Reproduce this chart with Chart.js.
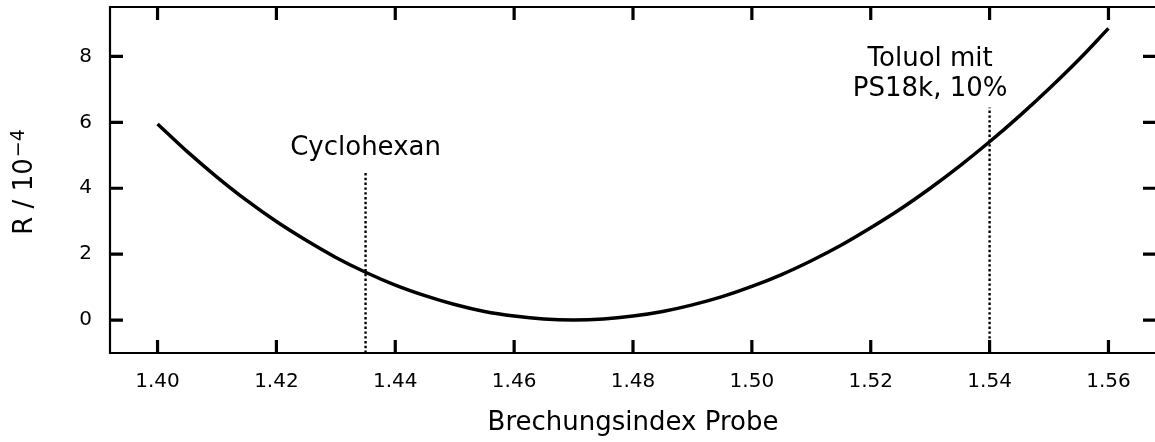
<!DOCTYPE html>
<html>
<head>
<meta charset="utf-8">
<script src="https://cdn.jsdelivr.net/npm/chart.js@4.4.1/dist/chart.umd.min.js"></script>
<style>
  html, body { margin: 0; padding: 0; background: #fff; overflow: hidden; }
  #wrap { position: relative; width: 1160px; height: 442px; }
</style>
</head>
<body>
<div id="wrap"><canvas id="c"></canvas></div>
<script>
// Refractive index of sample (x) and reflectance R / 1e-4 (y)
const nValues = [1.400, 1.405, 1.410, 1.415, 1.420, 1.425, 1.430, 1.435, 1.440, 1.445,
                 1.450, 1.455, 1.460, 1.465, 1.470, 1.475, 1.480, 1.485, 1.490, 1.495,
                 1.500, 1.505, 1.510, 1.515, 1.520, 1.525, 1.530, 1.535, 1.540, 1.545,
                 1.550, 1.555, 1.560];
const rValues = [5.95, 5.11, 4.34, 3.63, 2.99, 2.42, 1.90, 1.45, 1.06, 0.74,
                 0.47, 0.26, 0.12, 0.03, 0.00, 0.03, 0.12, 0.26, 0.46, 0.71,
                 1.02, 1.38, 1.80, 2.27, 2.80, 3.37, 4.00, 4.68, 5.41, 6.19,
                 7.02, 7.90, 8.85];

// Vertical dotted marker lines
const cycloX = [1.435, 1.435];
const cycloY = [-1, 4.5];
const toluolX = [1.54, 1.54];
const toluolY = [-1, 6.45];

// Annotation texts and their anchor positions (data units)
const annTexts = ["Cyclohexan", "Toluol mit", "PS18k, 10%"];
const annX = [1.435, 1.53, 1.53];
const annY = [5.0, 7.7, 6.79];

// Tick values
const xTicks = [1.40, 1.42, 1.44, 1.46, 1.48, 1.50, 1.52, 1.54, 1.56];
const yTicks = [0, 2, 4, 6, 8];

// Axis titles
const xTitle = 'Brechungsindex Probe';
const yTitleMain = 'R / 10';
const yTitleSup = '\u22124';

const FONT = "'DejaVu Sans', sans-serif";
const zip = (xs, ys) => xs.map((x, i) => ({x: x, y: ys[i]}));

const framePlugin = {
  id: 'frame',
  afterDraw(chart) {
    const {ctx, chartArea: a, scales: {x, y}} = chart;
    ctx.save();
    ctx.strokeStyle = '#000';
    ctx.lineCap = 'butt';
    // spines (right spine lies outside the visible window)
    ctx.lineWidth = 2.2;
    ctx.beginPath();
    ctx.moveTo(a.right + 4, a.top);
    ctx.lineTo(a.left, a.top);
    ctx.lineTo(a.left, a.bottom);
    ctx.lineTo(a.right + 4, a.bottom);
    ctx.stroke();
    // inward ticks
    const TL = 13;
    ctx.lineWidth = 3.2;
    ctx.beginPath();
    x.ticks.forEach(t => {
      const px = x.getPixelForValue(t.value);
      ctx.moveTo(px, a.bottom); ctx.lineTo(px, a.bottom - TL);
      ctx.moveTo(px, a.top); ctx.lineTo(px, a.top + TL);
    });
    y.ticks.forEach(t => {
      const py = y.getPixelForValue(t.value);
      ctx.moveTo(a.left, py); ctx.lineTo(a.left + TL, py);
      ctx.moveTo(a.right, py); ctx.lineTo(a.right - TL, py);
    });
    ctx.stroke();
    // annotations
    ctx.fillStyle = '#000';
    ctx.font = "26px " + FONT;
    ctx.textAlign = 'center';
    ctx.textBaseline = 'alphabetic';
    annTexts.forEach((s, i) => {
      ctx.fillText(s, x.getPixelForValue(annX[i]), y.getPixelForValue(annY[i]));
    });
    // y axis title with superscript
    ctx.font = "26px " + FONT;
    const wMain = ctx.measureText(yTitleMain).width;
    ctx.font = "19px " + FONT;
    const wSup = ctx.measureText(yTitleSup).width;
    const total = wMain + 1 + wSup;
    const cy = (a.top + a.bottom) / 2 + 2;
    ctx.translate(32, cy);
    ctx.rotate(-Math.PI / 2);
    ctx.textAlign = 'left';
    ctx.font = "26px " + FONT;
    ctx.fillText(yTitleMain, -total / 2, 0);
    ctx.font = "19px " + FONT;
    ctx.fillText(yTitleSup, -total / 2 + wMain + 1, -8);
    ctx.restore();
  }
};

new Chart(document.getElementById('c'), {
  type: 'line',
  data: {
    datasets: [
      { data: zip(cycloX, cycloY), borderColor: '#000', borderWidth: 2.4, borderDash: [2.4, 2.4], pointRadius: 0, fill: false },
      { data: zip(toluolX, toluolY), borderColor: '#000', borderWidth: 2.4, borderDash: [2.4, 2.4], pointRadius: 0, fill: false },
      { data: zip(nValues, rValues), borderColor: '#000', borderWidth: 3.5, pointRadius: 0, fill: false, cubicInterpolationMode: 'monotone' }
    ]
  },
  options: {
    responsive: true,
    maintainAspectRatio: false,
    animation: false,
    events: [],
    layout: { padding: { top: 7, right: 4, left: 0, bottom: 0 } },
    plugins: { legend: { display: false }, tooltip: { enabled: false } },
    scales: {
      x: {
        type: 'linear',
        min: 1.392, max: 1.568,
        afterBuildTicks: s => { s.ticks = xTicks.map(v => ({value: v})); },
        afterFit: s => { s.height = 89; s.paddingLeft = 0; s.paddingRight = 0; },
        grid: { display: false, drawTicks: false, tickLength: 0 },
        border: { display: false },
        ticks: {
          padding: 17, color: '#000', maxRotation: 0, autoSkip: false,
          font: { family: FONT, size: 20 },
          callback: v => Number(v).toFixed(2)
        },
        title: {
          display: true, text: xTitle, color: '#000',
          font: { family: FONT, size: 26 }, padding: { top: 0, bottom: 3 }
        }
      },
      y: {
        type: 'linear',
        min: -1, max: 9.5,
        afterBuildTicks: s => { s.ticks = yTicks.map(v => ({value: v})); },
        afterFit: s => { s.width = 110; s.paddingTop = 0; s.paddingBottom = 0; },
        grid: { display: false, drawTicks: false, tickLength: 0 },
        border: { display: false },
        ticks: {
          padding: 18, color: '#000', autoSkip: false,
          font: { family: FONT, size: 20 },
          callback: v => String(v)
        },
        title: { display: false }
      }
    }
  },
  plugins: [framePlugin]
});
</script>
</body>
</html>
